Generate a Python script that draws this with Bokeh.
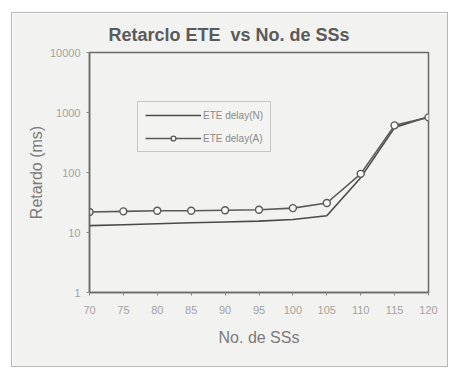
from bokeh.plotting import figure
from bokeh.embed import file_html
from bokeh.resources import INLINE
from bokeh.models import FixedTicker, Legend, LegendItem, Title, Range1d

# data
ss_count = [70, 75, 80, 85, 90, 95, 100, 105, 110, 115, 120]
delay_N = [13, 13.5, 14, 14.5, 15, 15.5, 16.5, 19, 82, 560, 850]
delay_A = [22, 22.5, 23, 23, 23.5, 24, 25.5, 31, 95, 610, 830]
y_ticks = [1, 10, 100, 1000, 10000]
x_ticks = [70, 75, 80, 85, 90, 95, 100, 105, 110, 115, 120]
title_text = "Retarclo ETE\u00a0 vs No. de SSs"
legend_labels = ["ETE delay(N)", "ETE delay(A)"]

FONT = "Liberation Sans"
BG = "#f2f2f0"

p = figure(width=435, height=353, y_axis_type="log",
           x_range=Range1d(70, 120), y_range=Range1d(1, 10000),
           output_backend="svg", toolbar_location=None,
           min_border_left=77, min_border_right=19,
           min_border_top=39, min_border_bottom=74)
p.margin = (13, 0, 0, 12)
p.styles = {"outline": "1px solid #b8b8b6"}
p.background_fill_color = BG
p.border_fill_color = BG
p.outline_line_color = "#6a6a6a"
p.outline_line_width = 1.5
p.grid.visible = False

t = Title(text=title_text, align="left", offset=19, text_font=FONT,
          text_font_size="18px", text_font_style="bold", text_color="#5a5a5a",
          standoff=15)
p.title = t

for ax in (p.xaxis[0], p.yaxis[0]):
    ax.axis_line_color = "#6a6a6a"
    ax.axis_line_width = 1.5
    ax.major_tick_line_color = "#8a8a8a"
    ax.major_tick_out = 3
    ax.major_tick_in = 0
    ax.minor_tick_line_color = None
    ax.major_label_text_font = FONT
    ax.major_label_text_font_size = "11px"
    ax.major_label_text_color = "#a2a2a2"
    ax.axis_label_text_font = FONT
    ax.axis_label_text_font_style = "normal"
    ax.axis_label_text_font_size = "16px"
    ax.axis_label_text_color = "#7a7a7a"

p.xaxis[0].ticker = FixedTicker(ticks=x_ticks)
p.xaxis[0].major_label_standoff = 10
p.xaxis[0].axis_label = "No. de SSs"
p.xaxis[0].axis_label_standoff = 12

p.yaxis[0].ticker = FixedTicker(ticks=y_ticks)
p.yaxis[0].major_label_overrides = {v: str(v) for v in y_ticks}
p.yaxis[0].major_label_standoff = 6
p.yaxis[0].axis_label = "Retardo (ms)"
p.yaxis[0].axis_label_standoff = 2

rN = p.line(ss_count, delay_N, line_color="#4a4a4a", line_width=1.6)
rA = p.line(ss_count, delay_A, line_color="#5a5a5a", line_width=1.6)
rAm = p.scatter(ss_count, delay_A, marker="circle", size=7,
                line_color="#5a5a5a", line_width=1.4, fill_color="#f8f8f6")

legend = Legend(items=[LegendItem(label=legend_labels[0], renderers=[rN]),
                       LegendItem(label=legend_labels[1], renderers=[rA, rAm])],
                location=(48, 140), orientation="vertical",
                background_fill_color=BG, border_line_color="#9a9a9a",
                border_line_width=1, label_text_font=FONT,
                label_text_font_size="10px", label_text_color="#8a8a8a",
                glyph_width=56, glyph_height=12, label_height=12,
                padding=7, spacing=11, margin=0, label_standoff=2)
p.add_layout(legend, "center")

open("out.html", "w").write(file_html(p, INLINE))
